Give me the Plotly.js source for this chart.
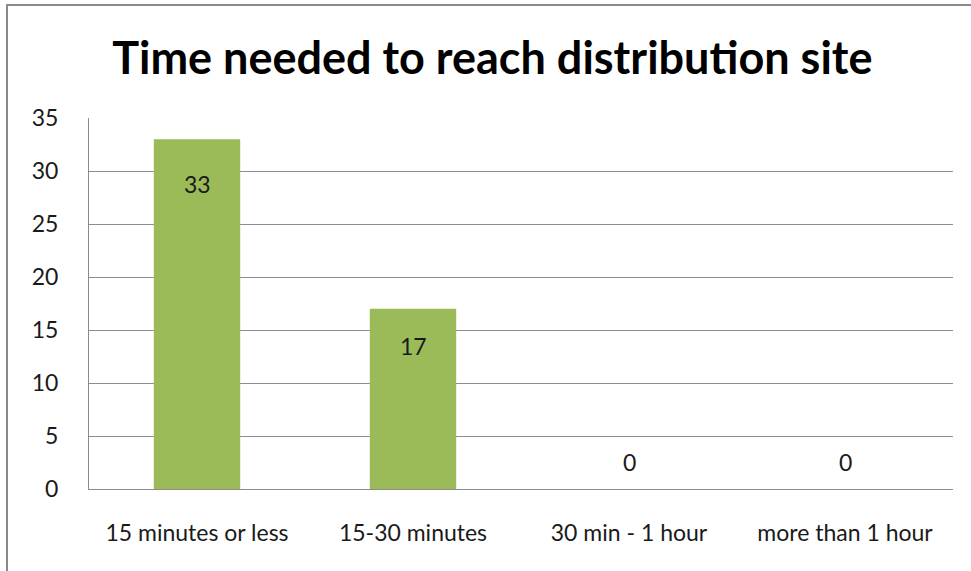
<!DOCTYPE html>
<html>
<head>
<meta charset="utf-8">
<script src="https://cdn.plot.ly/plotly-3.0.1.min.js"></script>
<style>
  html, body { margin: 0; padding: 0; background: #fff; }
  #wrap { position: relative; width: 971px; height: 571px; overflow: hidden; }
  #chart { position: absolute; left: 0; top: 0; width: 971px; height: 571px; }
  #frame { position: absolute; left: 6px; top: 4px; width: 980px; height: 580px;
           border-left: 2px solid #8a8a8a; border-top: 2px solid #8a8a8a; pointer-events: none; }
</style>
</head>
<body>
<div id="wrap">
  <div id="chart"></div>
  <div id="frame"></div>
</div>
<script>
// Travel time to the distribution site (number of respondents)
const categories = ["15 minutes or less", "15-30 minutes", "30 min - 1 hour", "more than 1 hour"];
const counts = [33, 17, 0, 0];
const yTicks = [0, 5, 10, 15, 20, 25, 30, 35];

const FONT = "Lato, 'Open Sans', sans-serif";

const bars = {
  type: "bar",
  x: categories,
  y: counts,
  width: 0.4,
  marker: { color: "#9bbb59", line: { width: 0 } },
  hoverinfo: "x+y"
};

// value labels: inside the top of tall bars, just above the baseline for empty ones
const annotations = categories.map((c, i) => ({
  x: c,
  y: counts[i],
  xref: "x",
  yref: "y",
  text: String(counts[i]),
  showarrow: false,
  yshift: counts[i] > 20 ? -45 : (counts[i] > 0 ? -37 : 27),
  font: { family: FONT, size: 23, color: "#1a1a1a" }
}));

const layout = {
  width: 971,
  height: 571,
  margin: { l: 89, r: 18, t: 118, b: 82 },
  paper_bgcolor: "#ffffff",
  plot_bgcolor: "#ffffff",
  showlegend: false,
  bargap: 0.6,
  title: {
    text: "<b>Time needed to reach distribution site</b>",
    font: { family: FONT, size: 45, color: "#000000" },
    x: 0.507,
    xanchor: "center",
    y: 0.898,
    yanchor: "middle"
  },
  xaxis: {
    type: "category",
    showgrid: false,
    showline: true,
    linecolor: "#8c8c8c",
    linewidth: 1,
    ticks: "",
    ticklabelstandoff: 23,
    tickfont: { family: FONT, size: 23, color: "#1a1a1a" },
    fixedrange: true
  },
  yaxis: {
    range: [0, 35],
    tickvals: yTicks,
    ticktext: yTicks.map(String),
    showgrid: true,
    gridcolor: "#8c8c8c",
    gridwidth: 1,
    showline: true,
    linecolor: "#8c8c8c",
    linewidth: 1,
    zeroline: false,
    ticks: "",
    ticklabelstandoff: 25,
    tickfont: { family: FONT, size: 23, color: "#1a1a1a" },
    fixedrange: true
  },
  annotations: annotations
};

Plotly.newPlot("chart", [bars], layout, { displayModeBar: false, staticPlot: true });
</script>
</body>
</html>
